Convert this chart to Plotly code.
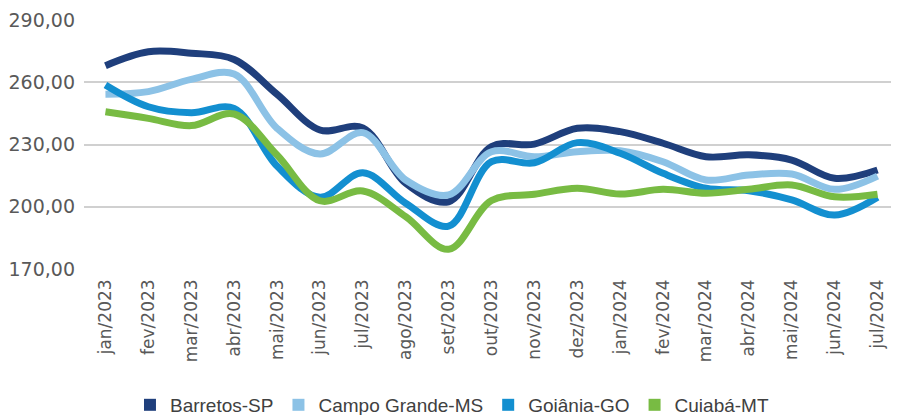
import plotly.graph_objects as go

# --- dados ---
meses = ["jan/2023", "fev/2023", "mar/2023", "abr/2023", "mai/2023", "jun/2023",
         "jul/2023", "ago/2023", "set/2023", "out/2023", "nov/2023", "dez/2023",
         "jan/2024", "fev/2024", "mar/2024", "abr/2024", "mai/2024", "jun/2024",
         "jul/2024"]

barretos = [268.0, 274.7, 274.0, 271.0, 254.2, 237.0, 238.0, 211.3, 202.4, 229.0,
            230.2, 237.8, 236.2, 230.6, 224.1, 225.0, 222.5, 213.7, 217.7]
campo_grande = [254.2, 255.5, 261.4, 264.0, 237.8, 225.4, 235.7, 212.9, 205.7, 226.5,
                224.1, 226.5, 227.0, 221.7, 212.9, 215.3, 215.8, 208.4, 214.8]
goiania = [258.7, 248.2, 245.3, 247.4, 219.6, 204.6, 216.4, 201.7, 190.7, 221.7,
           221.2, 230.9, 225.8, 216.1, 208.9, 207.7, 203.3, 196.0, 204.6]
cuiaba = [245.8, 242.6, 239.1, 244.7, 224.9, 202.9, 207.6, 195.2, 179.5, 203.0,
          206.0, 208.9, 206.1, 208.4, 206.5, 208.4, 210.5, 204.8, 206.0]

series = [
    ("Barretos-SP", barretos, "#1F3F7C"),
    ("Campo Grande-MS", campo_grande, "#8CC2E6"),
    ("Goiânia-GO", goiania, "#138FD0"),
    ("Cuiabá-MT", cuiaba, "#78BB43"),
]

fig = go.Figure()

for nome, valores, cor in series:
    # linha suavizada
    fig.add_trace(go.Scatter(
        x=meses, y=valores, mode="lines", name=nome,
        line=dict(color=cor, width=7, shape="spline", smoothing=1.0),
        showlegend=False,
    ))
    # item de legenda com marcador quadrado
    fig.add_trace(go.Scatter(
        x=[None], y=[None], mode="markers", name=nome,
        marker=dict(color=cor, symbol="square", size=12),
    ))

# a página tem 8px de margem no body, por isso a figura é 8px menor
fig.update_layout(
    width=891, height=407,
    margin=dict(l=76, r=0, t=12, b=146, autoexpand=False),
    plot_bgcolor="white", paper_bgcolor="white",
    font=dict(family="DejaVu Sans, sans-serif", color="#595959"),
    legend=dict(
        orientation="h",
        x=0.4515, xanchor="center", y=-0.546, yanchor="middle",
        font=dict(family="Liberation Sans Narrow, Liberation Sans, sans-serif",
                  size=19, color="#404040"),
        itemsizing="constant", tracegroupgap=0, itemwidth=30,
    ),
)

fig.update_xaxes(
    type="category", tickangle=-90, range=[-0.5, 18.5],
    showgrid=False, showline=False, ticks="", ticklabelstandoff=6,
    tickfont=dict(size=17, color="#595959"),
)

fig.update_yaxes(
    range=[170, 290], tickvals=[170, 200, 230, 260, 290],
    ticktext=["170,00", "200,00", "230,00", "260,00", "290,00"],
    showgrid=True, gridcolor="#D0D0D0", gridwidth=2,
    zeroline=False, showline=False, ticks="", ticklabelstandoff=8,
    tickfont=dict(size=19, color="#595959"),
)

fig.write_html("out.html")
